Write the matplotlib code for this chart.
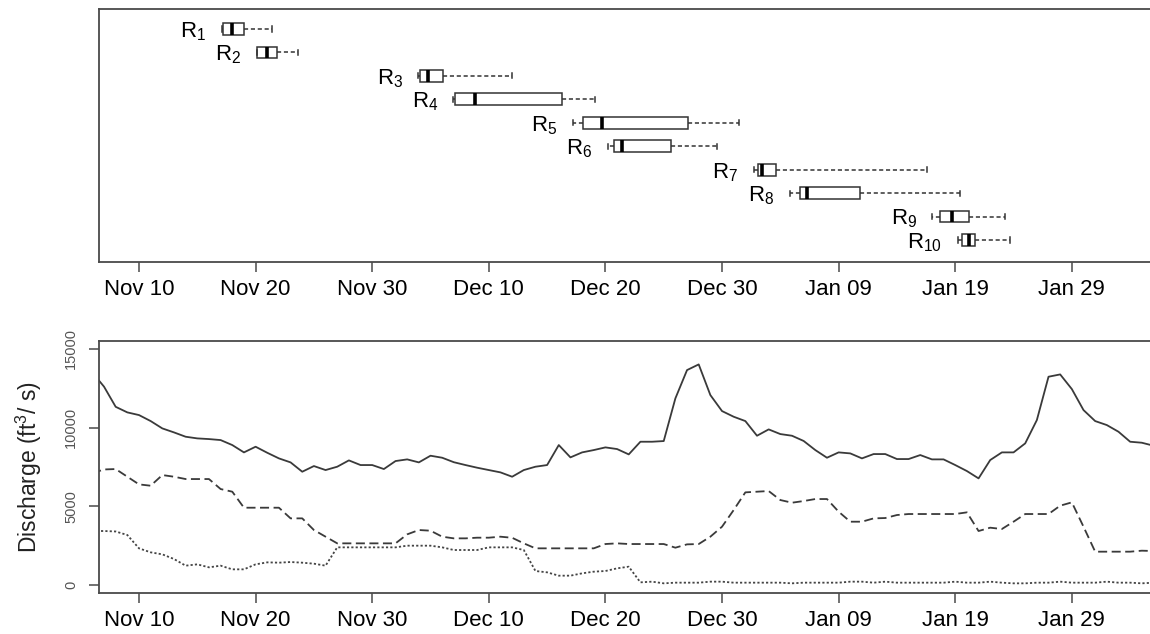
import numpy as np
import pandas as pd
import matplotlib
matplotlib.use('Agg')
import matplotlib.pyplot as plt
import matplotlib.dates as mdates
from matplotlib.ticker import FixedLocator
plt.rcParams.update({'font.family': 'Liberation Sans', 'mathtext.fontset': 'custom',
                     'mathtext.rm': 'Liberation Sans', 'mathtext.it': 'Liberation Sans'})

# box stats, in "day of November" units (Dec 1 = 31, Jan 1 = 62)
reach = ['R$_{%d}$' % i for i in range(1, 11)]
box_lo = [17.1, 20.1, 33.95, 36.96, 47.2, 50.2, 62.7, 65.8, 78.04, 80.2]
box_q1 = [17.2, 20.15, 34.1, 37.1, 48.1, 50.75, 63.1, 66.7, 78.7, 80.55]
box_med = [17.95, 21.0, 34.76, 38.8, 49.7, 51.45, 63.4, 67.3, 79.7, 81.2]
box_q3 = [19.0, 21.8, 36.1, 46.25, 57.1, 55.6, 64.6, 71.8, 81.2, 81.7]
box_hi = [21.4, 23.6, 41.96, 49.1, 61.45, 59.55, 77.6, 80.4, 84.3, 84.7]

# daily discharge, Nov 6 .. Feb 5
flow_days = pd.date_range('2008-11-06', '2009-02-05', freq='D')
q_solid = [13500, 12600, 11320, 10965, 10795, 10414, 9948, 9694, 9419, 9313,
           9270, 9207, 8890, 8424, 8784, 8400, 8043, 7789, 7196, 7556,
           7302, 7514, 7916, 7620, 7620, 7366, 7874, 7980, 7789, 8213,
           8085, 7800, 7620, 7451, 7302, 7154, 6878, 7302, 7514, 7620,
           8890, 8107, 8424, 8572, 8742, 8636, 8297, 9101, 9101, 9144,
           11855, 13653, 14013, 12065, 11049, 10689, 10414, 9482, 9885, 9588,
           9482, 9150, 8572, 8085, 8424, 8360, 8043, 8318, 8318, 8001,
           8001, 8255, 7980, 7980, 7620, 7239, 6773, 7938, 8424, 8424,
           8996, 10478, 13230, 13377, 12446, 11113, 10414, 10160, 9736, 9101,
           9038, 8850]
q_dash = [7100, 7340, 7366, 6878, 6392, 6307, 6985, 6878, 6731, 6731,
          6731, 6096, 5927, 4910, 4910, 4910, 4910, 4233, 4233, 3493,
          3069, 2646, 2646, 2646, 2646, 2646, 2646, 3217, 3493, 3450,
          3069, 2963, 2963, 3006, 3006, 3069, 3000, 2646, 2329, 2329,
          2329, 2329, 2329, 2329, 2603, 2646, 2603, 2603, 2603, 2603,
          2371, 2582, 2603, 3069, 3704, 4763, 5885, 5927, 5969, 5398,
          5228, 5334, 5461, 5461, 4657, 4021, 4021, 4233, 4254, 4445,
          4509, 4509, 4509, 4509, 4509, 4615, 3429, 3641, 3556, 4021,
          4509, 4509, 4509, 5038, 5250, 3704, 2117, 2117, 2117, 2117,
          2180, 2160]
q_dot = [3430, 3430, 3400, 3175, 2329, 2075, 1948, 1651, 1228, 1312,
         1122, 1228, 995, 995, 1312, 1439, 1418, 1460, 1418, 1354,
         1228, 2392, 2392, 2392, 2392, 2392, 2392, 2498, 2498, 2498,
         2392, 2223, 2223, 2223, 2392, 2392, 2392, 2223, 889, 804,
         593, 593, 741, 847, 889, 1058, 1164, 169, 212, 106,
         148, 148, 148, 212, 212, 148, 148, 148, 148, 148,
         106, 148, 148, 148, 148, 212, 212, 148, 212, 148,
         148, 148, 148, 148, 212, 148, 148, 212, 148, 106,
         106, 148, 148, 212, 148, 148, 148, 212, 148, 148,
         106, 148]

nov0 = mdates.date2num(pd.Timestamp('2008-11-01')) - 1
tick_days = pd.date_range('2008-11-10', periods=9, freq='10D')
xlim = (nov0 + 6.57, nov0 + 96.9)
frame = '#4a4a4a'

fig = plt.figure(figsize=(11.5, 6.34), dpi=100)
ax1 = fig.add_axes([99/1150, 1 - 262/634, 1053.3/1150, 253/634])
ax2 = fig.add_axes([99/1150, 1 - 593/634, 1053.3/1150, 252/634])

stats = []
for i in range(10):
    stats.append(dict(whislo=nov0 + box_lo[i], q1=nov0 + box_q1[i], med=nov0 + box_med[i],
                      q3=nov0 + box_q3[i], whishi=nov0 + box_hi[i], fliers=[]))
ax1.bxp(stats, positions=np.arange(1, 11), widths=0.5, orientation='horizontal',
        showfliers=False, capwidths=0.22, patch_artist=True, manage_ticks=False,
        boxprops=dict(facecolor='white', edgecolor='#333333', linewidth=1.1),
        medianprops=dict(color='black', linewidth=2.6),
        whiskerprops=dict(color='#333333', linestyle=(0, (2.7, 1.8)), linewidth=1.1),
        capprops=dict(color='#333333', linewidth=1.1))
for i in range(10):
    ax1.annotate(reach[i], xy=(nov0 + box_lo[i], i + 1), xytext=(-11, -6),
                 textcoords='offset points', ha='right', va='baseline', fontsize=16)
ax1.set_ylim(10.94, 0.145)
ax1.set_yticks([])

ax2.plot(flow_days, q_solid, color='#3a3a3a', lw=1.3, ls='-')
ax2.plot(flow_days, q_dash, color='#3a3a3a', lw=1.3, ls=(0, (5, 2.5)))
ax2.plot(flow_days, q_dot, color='#444444', lw=1.3, ls=(0, (1.2, 1.2)))
ax2.set_ylim(-508, 15500)
ax2.set_yticks([0, 5000, 10000, 15000])
ax2.tick_params(axis='y', labelsize=10.5, labelcolor='#555555', labelrotation=90,
                length=7, width=1.1, color=frame, pad=8)
for lbl in ax2.get_yticklabels():
    lbl.set_va('center')
ax2.set_ylabel('Discharge (ft$^3$/ s)', fontsize=16.5, color='#222222')
ax2.yaxis.set_label_coords(-0.052, 0.5)

for ax in (ax1, ax2):
    ax.set_xlim(xlim)
    ax.xaxis.set_major_locator(FixedLocator(mdates.date2num(tick_days)))
    ax.xaxis.set_major_formatter(mdates.DateFormatter('%b %d'))
    ax.tick_params(axis='x', labelsize=16, length=7, width=1.1, color=frame, pad=5)
    for s in ax.spines.values():
        s.set_color(frame)
        s.set_linewidth(1.3)

fig.savefig('out.png', dpi=100, facecolor='white')
